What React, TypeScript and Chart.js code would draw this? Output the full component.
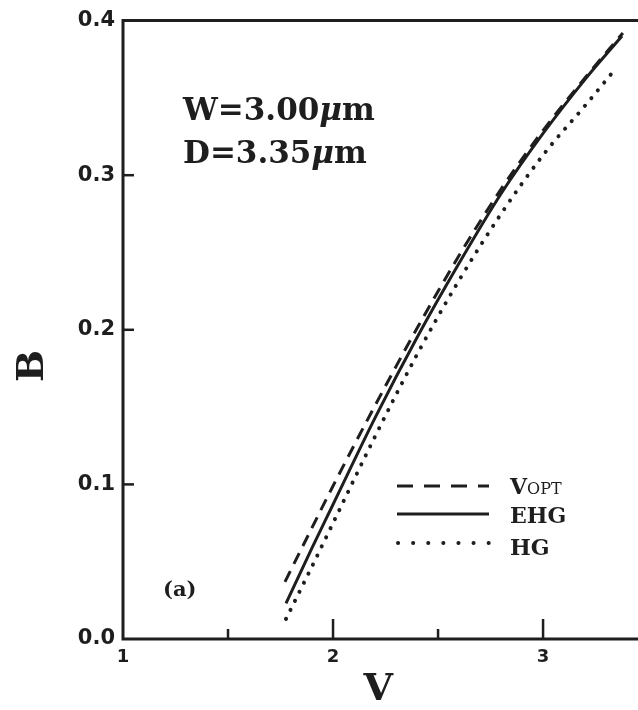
import React, { useEffect, useRef } from 'react';
import { Chart, registerables } from 'chart.js';
Chart.register(...registerables);

// Data
const vOpt = [1.771, 1.9, 2.0, 2.2, 2.4, 2.6, 2.8, 3.0, 3.2, 3.38];
const bOpt = [0.037, 0.072, 0.099, 0.151, 0.201, 0.248, 0.291, 0.329, 0.363, 0.392];
const vEhg = [1.776, 1.9, 2.0, 2.2, 2.4, 2.6, 2.8, 3.0, 3.2, 3.376];
const bEhg = [0.023, 0.059, 0.087, 0.143, 0.195, 0.243, 0.288, 0.327, 0.362, 0.39];
const vHg = [1.776, 1.9, 2.0, 2.2, 2.4, 2.6, 2.8, 3.0, 3.2, 3.352];
const bHg = [0.013, 0.047, 0.075, 0.131, 0.184, 0.232, 0.275, 0.313, 0.345, 0.37];

const yTickValues = [0, 0.1, 0.2, 0.3, 0.4];
const xMajorTicks = [1, 2, 3];
const xMinorTicks = [1.5, 2.5];
const X_MIN = 1;
const X_MAX = 3.452;

const INK = '#1e1e1e';
const SERIF = '"DejaVu Serif", serif';
const SANS = '"DejaVu Sans", sans-serif';

const zip = (xs: number[], ys: number[]) => xs.map((x, i) => ({ x, y: ys[i] }));

function drawParts(ctx: CanvasRenderingContext2D, x: number, y: number, parts: [string, string][]) {
  let cx = x;
  for (const [t, f] of parts) {
    ctx.font = f;
    ctx.fillText(t, cx, y);
    cx += ctx.measureText(t).width;
  }
}

const framePlugin = {
  id: 'frame',
  afterDraw(chart: any) {
    const { ctx, chartArea: ca, scales } = chart;
    const W = chart.width;
    const xs = scales.x;
    const ys = scales.y;
    ctx.save();
    ctx.strokeStyle = INK;
    ctx.fillStyle = INK;
    ctx.lineWidth = 3;
    ctx.lineCap = 'butt';
    ctx.setLineDash([]);
    // frame
    ctx.beginPath();
    ctx.moveTo(W, ca.top);
    ctx.lineTo(ca.left, ca.top);
    ctx.lineTo(ca.left, ca.bottom);
    ctx.lineTo(W, ca.bottom);
    ctx.stroke();
    // y ticks (inward)
    ctx.lineWidth = 2.5;
    for (const v of yTickValues) {
      if (v <= 0 || v >= 0.4) continue;
      const py = ys.getPixelForValue(v);
      ctx.beginPath();
      ctx.moveTo(ca.left, py);
      ctx.lineTo(ca.left + 11, py);
      ctx.stroke();
    }
    // x ticks (inward)
    for (const v of xMajorTicks) {
      if (v <= X_MIN) continue;
      const px = xs.getPixelForValue(v);
      ctx.beginPath();
      ctx.moveTo(px, ca.bottom);
      ctx.lineTo(px, ca.bottom - 20);
      ctx.stroke();
    }
    for (const v of xMinorTicks) {
      const px = xs.getPixelForValue(v);
      ctx.beginPath();
      ctx.moveTo(px, ca.bottom);
      ctx.lineTo(px, ca.bottom - 10);
      ctx.stroke();
    }

    // annotation text
    ctx.textAlign = 'left';
    ctx.textBaseline = 'alphabetic';
    drawParts(ctx, 183, 120, [
      ['W=3.00', `bold 31px ${SERIF}`],
      ['μ', `italic bold 31px ${SERIF}`],
      ['m', `bold 31px ${SERIF}`],
    ]);
    drawParts(ctx, 183, 163, [
      ['D=3.35', `bold 31px ${SERIF}`],
      ['μ', `italic bold 31px ${SERIF}`],
      ['m', `bold 31px ${SERIF}`],
    ]);
    drawParts(ctx, 163, 596, [['(a)', `bold 21px ${SERIF}`]]);

    // legend
    const lx0 = 397;
    const lx1 = 489;
    ctx.lineWidth = 3;
    ctx.setLineDash([16, 11]);
    ctx.beginPath();
    ctx.moveTo(lx0, 486);
    ctx.lineTo(lx1, 486);
    ctx.stroke();
    ctx.setLineDash([]);
    ctx.beginPath();
    ctx.moveTo(lx0, 514);
    ctx.lineTo(lx1, 514);
    ctx.stroke();
    ctx.lineCap = 'round';
    ctx.lineWidth = 4;
    ctx.setLineDash([0.1, 15]);
    ctx.beginPath();
    ctx.moveTo(lx0 + 1, 543);
    ctx.lineTo(lx1 + 2, 543);
    ctx.stroke();
    ctx.setLineDash([]);
    ctx.lineCap = 'butt';

    drawParts(ctx, 510, 494, [
      ['V', `bold 22px ${SERIF}`],
      ['OPT', `16px ${SERIF}`],
    ]);
    drawParts(ctx, 510, 523, [['EHG', `bold 22px ${SERIF}`]]);
    drawParts(ctx, 510, 555, [['HG', `bold 22px ${SERIF}`]]);

    // axis titles
    ctx.font = `bold 38px ${SERIF}`;
    ctx.textAlign = 'center';
    ctx.textBaseline = 'middle';
    ctx.fillText('V', xs.getPixelForValue(2.215), 690);
    ctx.save();
    ctx.translate(33, 366);
    ctx.rotate(-Math.PI / 2);
    ctx.fillText('B', 0, 0);
    ctx.restore();

    ctx.restore();
  },
};

export default function App() {
  const ref = useRef<HTMLCanvasElement | null>(null);
  useEffect(() => {
    if (!ref.current) return;
    const chart = new Chart(ref.current, {
      type: 'line',
      data: {
        datasets: [
          {
            label: 'VOPT',
            data: zip(vOpt, bOpt),
            borderColor: INK,
            borderWidth: 3,
            borderDash: [12, 8],
            pointRadius: 0,
            cubicInterpolationMode: 'monotone',
            fill: false,
          },
          {
            label: 'EHG',
            data: zip(vEhg, bEhg),
            borderColor: INK,
            borderWidth: 3,
            pointRadius: 0,
            cubicInterpolationMode: 'monotone',
            fill: false,
          },
          {
            label: 'HG',
            data: zip(vHg, bHg),
            borderColor: INK,
            borderWidth: 4,
            borderDash: [0.1, 10],
            borderCapStyle: 'round',
            pointRadius: 0,
            cubicInterpolationMode: 'monotone',
            fill: false,
          },
        ],
      },
      options: {
        animation: false,
        responsive: false,
        devicePixelRatio: 1,
        layout: { padding: { top: 18, right: 0, left: 0, bottom: 0 } },
        plugins: { legend: { display: false }, tooltip: { enabled: false } },
        scales: {
          x: {
            type: 'linear',
            min: X_MIN,
            max: X_MAX,
            grid: { display: false, drawTicks: false },
            border: { display: false },
            afterBuildTicks: (s: any) => {
              s.ticks = xMajorTicks.map((v) => ({ value: v }));
            },
            afterFit: (s: any) => {
              s.height = 71;
            },
            ticks: {
              padding: 8,
              maxRotation: 0,
              color: INK,
              font: { family: SANS, size: 18, weight: 'bold' },
              callback: (v: any) => String(v),
            },
          },
          y: {
            type: 'linear',
            min: 0,
            max: 0.4,
            grid: { display: false, drawTicks: false },
            border: { display: false },
            afterBuildTicks: (s: any) => {
              s.ticks = yTickValues.map((v) => ({ value: v }));
            },
            afterFit: (s: any) => {
              s.width = 123;
            },
            ticks: {
              padding: 8,
              color: INK,
              font: { family: SANS, size: 21, weight: 'bold' },
              callback: (v: any) => Number(v).toFixed(1),
            },
          },
        },
      },
      plugins: [framePlugin],
    } as any);
    return () => chart.destroy();
  }, []);
  return (
    <div style={{ position: 'fixed', left: 0, top: 0, width: 638, height: 710, background: '#fff' }}>
      <canvas ref={ref} width={638} height={710} style={{ display: 'block', width: 638, height: 710 }} />
    </div>
  );
}
